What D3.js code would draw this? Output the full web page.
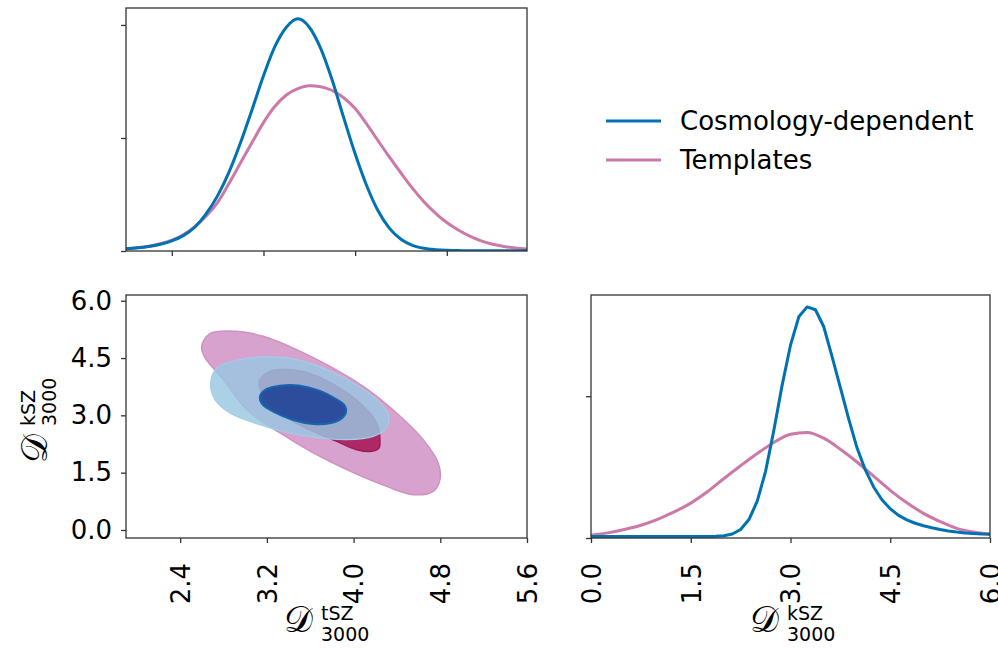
<!DOCTYPE html>
<html><head><meta charset="utf-8">
<script src="https://cdn.jsdelivr.net/npm/d3@7"></script>
<style>
html,body{margin:0;padding:0;background:#fff;}
svg{display:block;font-family:"DejaVu Sans",sans-serif;}
</style></head><body>
<svg id="chart" width="998" height="648"></svg>
<script>
// ---- data ----
const seriesNames = ["Cosmology-dependent", "Templates"];

// 1D marginal of D_3000^tSZ
const tszGrid = [2.0,2.1,2.2,2.3,2.4,2.5,2.6,2.7,2.8,2.9,3.0,3.1,3.2,3.3,3.4,3.5,3.6,3.7,3.8,3.9,
                 4.0,4.1,4.2,4.3,4.4,4.5,4.6,4.7,4.8,4.9,5.0,5.1,5.2,5.3,5.4,5.5];
const tszCosmo = [0.010,0.014,0.020,0.030,0.045,0.068,0.105,0.165,0.245,0.350,0.480,0.625,0.775,0.905,0.990,1.027,
                  0.990,0.895,0.755,0.590,0.430,0.290,0.178,0.100,0.052,0.025,0.012,0.006,0.003,0.002,
                  0.001,0.001,0.001,0.001,0.001,0.001];
const tszTempl = [0.010,0.014,0.021,0.032,0.048,0.072,0.108,0.155,0.215,0.300,0.390,0.480,0.568,0.640,0.690,0.718,
                  0.731,0.727,0.710,0.678,0.630,0.562,0.488,0.415,0.345,0.278,0.218,0.168,0.126,0.093,
                  0.066,0.045,0.030,0.020,0.013,0.009];

// 1D marginal of D_3000^kSZ
const kszGridFine = [0,0.125,0.25,0.375,0.5,0.625,0.75,0.875,1.0,1.125,1.25,1.375,1.5,1.625,1.75,1.875,
                     2.0,2.125,2.25,2.375,2.5,2.625,2.75,2.875,3.0,3.125,3.25,3.375,3.5,3.625,3.75,3.875,
                     4.0,4.125,4.25,4.375,4.5,4.625,4.75,4.875,5.0,5.125,5.25,5.375,5.5,5.625,5.75,5.875,6.0];
const kszCosmo = [0.005,0.005,0.005,0.005,0.005,0.005,0.005,0.005,0.005,0.005,0.005,0.005,0.005,0.005,0.005,0.006,
                  0.008,0.014,0.030,0.065,0.130,0.235,0.380,0.540,0.680,0.780,0.815,0.805,0.745,0.640,0.530,0.420,
                  0.318,0.240,0.180,0.135,0.103,0.080,0.064,0.052,0.043,0.036,0.030,0.025,0.021,0.018,0.016,0.014,0.013];
const kszGridCoarse = [0,0.25,0.5,0.75,1.0,1.25,1.5,1.75,2.0,2.25,2.5,2.75,3.0,3.25,3.5,3.75,
                       4.0,4.25,4.5,4.75,5.0,5.25,5.5,5.75,6.0];
const kszTempl = [0.010,0.018,0.030,0.045,0.066,0.092,0.123,0.163,0.210,0.255,0.298,0.337,0.366,0.372,0.352,0.313,
                  0.268,0.218,0.168,0.124,0.087,0.058,0.034,0.021,0.014];

// 2D credible regions, vertices as [tSZ, kSZ]
const templOuter = [[2.598,4.806],[2.675,5.139],[2.921,5.199],[3.167,5.068],[3.475,4.720],[3.782,4.283],
  [4.089,3.759],[4.397,3.063],[4.643,2.364],[4.781,1.754],[4.797,1.317],[4.735,1.010],[4.550,0.924],
  [4.305,1.141],[3.936,1.579],[3.628,2.016],[3.321,2.539],[3.013,3.149],[2.798,3.935],[2.629,4.510]];
const templInner = [[3.130,3.890],[3.228,4.152],[3.413,4.196],[3.628,4.065],[3.844,3.759],[4.059,3.325],
  [4.213,2.801],[4.243,2.364],[4.234,2.147],[4.167,2.058],[4.028,2.102],[3.844,2.319],[3.628,2.581],
  [3.413,2.887],[3.228,3.325],[3.152,3.586]];
const cosmoOuter = [[2.681,3.848],[2.737,4.241],[2.952,4.458],[3.198,4.529],[3.475,4.458],[3.751,4.196],
  [3.997,3.848],[4.213,3.411],[4.320,3.018],[4.305,2.670],[4.181,2.450],[3.936,2.364],[3.690,2.408],
  [3.413,2.539],[3.136,2.757],[2.859,3.063],[2.721,3.411]];
const cosmoInner = [[3.136,3.497],[3.198,3.691],[3.321,3.777],[3.505,3.777],[3.690,3.640],[3.830,3.440],
  [3.918,3.260],[3.930,3.080],[3.880,2.900],[3.790,2.800],[3.628,2.775],[3.443,2.880],[3.259,3.100],[3.161,3.280]];

// ticks
const tszTicksTop = [2.4, 3.2, 4.0, 4.8];
const tszTicks = [2.4, 3.2, 4.0, 4.8, 5.6];
const kszTicks = [0.0, 1.5, 3.0, 4.5, 6.0];
const densTicksTop = [0, 0.5, 1.0];
const densTicksSide = [0, 0.5];

// ---- styling ----
const colCosmo = "#0072b2", colTempl = "#cc79a7";
const spine = "#333333";
const tickFont = 26;

const svg = d3.select("#chart");

// panel frames (pixel boxes)
const pTop  = {x0:126, x1:527, y0:8,   y1:251};
const pTri  = {x0:126, x1:527, y0:295, y1:538};
const pSide = {x0:591, x1:990, y0:295, y1:538};

// scales
const xTop  = d3.scaleLinear().domain([2.0, 5.5]).range([pTop.x0, pTop.x1]);
const yTop  = d3.scaleLinear().domain([0, 1.075]).range([pTop.y1, pTop.y0]);
const xTri  = d3.scaleLinear().domain([1.9, 5.6]).range([pTri.x0, pTri.x1]);
const yTri  = d3.scaleLinear().domain([-0.21, 6.15]).range([pTri.y1, pTri.y0]);
const xSide = d3.scaleLinear().domain([0, 6]).range([pSide.x0, pSide.x1]);
const ySide = d3.scaleLinear().domain([0, 0.857]).range([pSide.y1, pSide.y0]);

// clip paths
const defs = svg.append("defs");
[["cTop",pTop],["cTri",pTri],["cSide",pSide]].forEach(([id,p]) => {
  defs.append("clipPath").attr("id", id).append("rect")
    .attr("x", p.x0).attr("y", p.y0).attr("width", p.x1 - p.x0).attr("height", p.y1 - p.y0);
});

// ---- top: tSZ marginal ----
const gTop = svg.append("g").attr("clip-path", "url(#cTop)");
function drawCurve(g, xs, ys, xS, yS, color, curve) {
  const line = d3.line().x(d => xS(d[0])).y(d => yS(d[1])).curve(curve);
  g.append("path").datum(xs.map((x, i) => [x, ys[i]]))
    .attr("d", line).attr("fill", "none").attr("stroke", color)
    .attr("stroke-width", 3).attr("stroke-linejoin", "round");
}
drawCurve(gTop, tszGrid, tszTempl, xTop, yTop, colTempl, d3.curveMonotoneX);
drawCurve(gTop, tszGrid, tszCosmo, xTop, yTop, colCosmo, d3.curveMonotoneX);

// ---- bottom-left: 2D contours ----
const gTri = svg.append("g").attr("clip-path", "url(#cTri)");
const closed = d3.line().x(d => xTri(d[0])).y(d => yTri(d[1])).curve(d3.curveCatmullRomClosed.alpha(0.5));
gTri.append("path").datum(templOuter).attr("d", closed)
  .attr("fill", "#d7a2cd").attr("stroke", "#cf92c3").attr("stroke-width", 1.5);
gTri.append("path").datum(templInner).attr("d", closed)
  .attr("fill", "#ad2865").attr("stroke", "#9c1c57").attr("stroke-width", 1.5);
gTri.append("path").datum(cosmoOuter).attr("d", closed)
  .attr("fill", "rgb(152,199,226)").attr("fill-opacity", 0.82)
  .attr("stroke", "rgb(160,206,230)").attr("stroke-width", 1.2);
gTri.append("path").datum(cosmoInner).attr("d", closed)
  .attr("fill", "rgb(28,64,148)").attr("fill-opacity", 0.88)
  .attr("stroke", "#1565b0").attr("stroke-width", 2);

// ---- bottom-right: kSZ marginal ----
const gSide = svg.append("g").attr("clip-path", "url(#cSide)");
drawCurve(gSide, kszGridCoarse, kszTempl, xSide, ySide, colTempl, d3.curveMonotoneX);
drawCurve(gSide, kszGridFine, kszCosmo, xSide, ySide, colCosmo, d3.curveLinear);

// ---- frames ----
[pTop, pTri, pSide].forEach(p => {
  svg.append("rect").attr("x", p.x0).attr("y", p.y0)
    .attr("width", p.x1 - p.x0).attr("height", p.y1 - p.y0)
    .attr("fill", "none").attr("stroke", spine).attr("stroke-width", 1.3);
});

// ---- axes ----
function styleAxis(g) {
  g.select(".domain").remove();
  g.selectAll(".tick line").attr("stroke", spine).attr("stroke-width", 1.3);
  g.selectAll(".tick text").attr("font-size", tickFont).attr("fill", "#000")
    .attr("font-family", "DejaVu Sans, sans-serif");
}
function rotateLabels(g) {
  g.selectAll(".tick text").attr("transform", "rotate(-90)")
    .attr("text-anchor", "end").attr("x", -25).attr("y", 0).attr("dy", "0.36em");
}
const fmt = d3.format(".1f");

svg.append("g").attr("transform", `translate(0,${pTop.y1})`)
  .call(d3.axisBottom(xTop).tickValues(tszTicksTop).tickSize(5).tickFormat("")).call(styleAxis);
svg.append("g").attr("transform", `translate(${pTop.x0},0)`)
  .call(d3.axisLeft(yTop).tickValues(densTicksTop).tickSize(5).tickFormat("")).call(styleAxis);

svg.append("g").attr("transform", `translate(0,${pTri.y1})`)
  .call(d3.axisBottom(xTri).tickValues(tszTicks).tickSize(5).tickFormat(fmt))
  .call(styleAxis).call(rotateLabels);
svg.append("g").attr("transform", `translate(${pTri.x0},0)`)
  .call(d3.axisLeft(yTri).tickValues(kszTicks).tickSize(5).tickPadding(9).tickFormat(fmt))
  .call(styleAxis);

svg.append("g").attr("transform", `translate(0,${pSide.y1})`)
  .call(d3.axisBottom(xSide).tickValues(kszTicks).tickSize(5).tickFormat(fmt))
  .call(styleAxis).call(rotateLabels);
svg.append("g").attr("transform", `translate(${pSide.x0},0)`)
  .call(d3.axisLeft(ySide).tickValues(densTicksSide).tickSize(5).tickFormat(""))
  .call(styleAxis);

// ---- axis titles: calligraphic D with superscript and subscript ----
function mathLabel(g, sup) {
  g.append("text").attr("x", 0).attr("y", 0).attr("font-size", 36)
    .attr("font-family", "DejaVu Serif, DejaVu Sans, serif").attr("fill", "#000").text("\u{1D49F}");
  g.append("text").attr("x", 37).attr("y", -12).attr("font-size", 19).attr("fill", "#000").text(sup);
  g.append("text").attr("x", 37).attr("y", 9).attr("font-size", 19).attr("fill", "#000").text("3000");
}
mathLabel(svg.append("g").attr("transform", "translate(284,632)"), "tSZ");
mathLabel(svg.append("g").attr("transform", "translate(750,632)"), "kSZ");
mathLabel(svg.append("g").attr("transform", "translate(47,463) rotate(-90)"), "kSZ");

// ---- legend ----
const legend = svg.append("g");
[[seriesNames[0], colCosmo, 121], [seriesNames[1], colTempl, 160]].forEach(([name, col, y]) => {
  legend.append("line").attr("x1", 606).attr("x2", 661).attr("y1", y).attr("y2", y)
    .attr("stroke", col).attr("stroke-width", 3);
  legend.append("text").attr("x", 680).attr("y", y + 9).attr("font-size", 26)
    .attr("fill", "#000").text(name);
});
</script>
</body></html>
